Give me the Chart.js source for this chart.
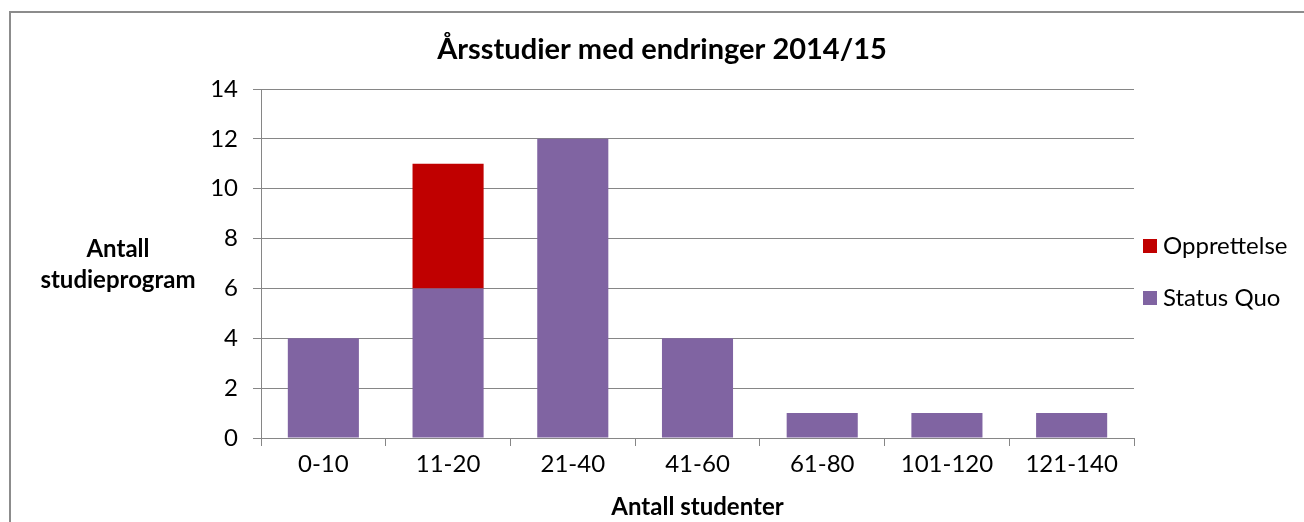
<!DOCTYPE html>
<html>
<head>
<meta charset="utf-8">
<script src="https://cdn.jsdelivr.net/npm/chart.js@4"></script>
<style>
html,body{margin:0;padding:0;background:#fff;}
#wrap{width:1304px;height:522px;position:relative;}
</style>
</head>
<body>
<div id="wrap"><canvas id="c" width="1304" height="522"></canvas></div>
<script>
const categories = ['0-10','11-20','21-40','41-60','61-80','101-120','121-140'];
const statusQuo = [4, 6, 12, 4, 1, 1, 1];
const opprettelse = [0, 5, 0, 0, 0, 0, 0];
const chartTitle = 'Årsstudier med endringer 2014/15';
const yTitle = ['Antall', 'studieprogram'];
const xTitle = 'Antall studenter';
const FONT = 'Lato, Carlito, Calibri, sans-serif';

const decor = {
  id: 'decor',
  beforeDraw(chart) {
    const ctx = chart.ctx;
    ctx.save();
    ctx.fillStyle = '#fff';
    ctx.fillRect(0, 0, chart.width, chart.height);
    ctx.strokeStyle = '#8c8c8c';
    ctx.lineWidth = 2;
    ctx.strokeRect(10, 12, 1320, 540);
    ctx.restore();
  },
  afterDraw(chart) {
    const ctx = chart.ctx;
    ctx.save();
    ctx.fillStyle = '#000';
    ctx.textAlign = 'center';
    ctx.textBaseline = 'middle';
    ctx.font = 'bold 29px ' + FONT;
    ctx.fillText(chartTitle, 662, 50);
    ctx.font = 'bold 24px ' + FONT;
    ctx.fillText(yTitle[0], 118, 249);
    ctx.fillText(yTitle[1], 118, 280);
    // legend (reverse dataset order: top = last dataset)
    const ds = chart.data.datasets.slice().reverse();
    ctx.textAlign = 'left';
    ctx.font = '24px ' + FONT;
    ds.forEach((d, i) => {
      const cy = 246 + i * 52;
      ctx.fillStyle = d.backgroundColor;
      ctx.fillRect(1143, cy - 7, 14, 14);
      ctx.fillStyle = '#000';
      ctx.fillText(d.label, 1163, cy);
    });
    ctx.restore();
  }
};

new Chart(document.getElementById('c'), {
  type: 'bar',
  data: {
    labels: categories,
    datasets: [
      { label: 'Status Quo', data: statusQuo, backgroundColor: '#8064A2', barPercentage: 0.57, categoryPercentage: 1 },
      { label: 'Opprettelse', data: opprettelse, backgroundColor: '#C00000', barPercentage: 0.57, categoryPercentage: 1 }
    ]
  },
  options: {
    responsive: false,
    animation: false,
    layout: { padding: { left: 0, right: 170, top: 89, bottom: 0 } },
    plugins: { legend: { display: false }, title: { display: false }, tooltip: { enabled: false } },
    scales: {
      x: {
        stacked: true,
        afterFit(s) { s.height = 84; },
        grid: { display: true, drawOnChartArea: false, drawTicks: true, tickLength: 8, color: '#868686', offset: true },
        border: { display: true, color: '#868686', width: 1 },
        ticks: { color: '#000', font: { family: FONT, size: 24 }, padding: 4, maxRotation: 0 },
        title: { display: true, text: xTitle, color: '#000', font: { family: FONT, size: 24, weight: 'bold' }, padding: { top: 0, bottom: 0 } }
      },
      y: {
        stacked: true,
        min: 0, max: 14,
        afterFit(s) { s.width = 261; },
        grid: { color: '#868686', lineWidth: 1, tickLength: 8, drawTicks: true },
        border: { display: true, color: '#868686', width: 1 },
        ticks: { stepSize: 2, color: '#000', font: { family: FONT, size: 24 }, padding: 15 }
      }
    }
  },
  plugins: [decor]
});
</script>
</body>
</html>
